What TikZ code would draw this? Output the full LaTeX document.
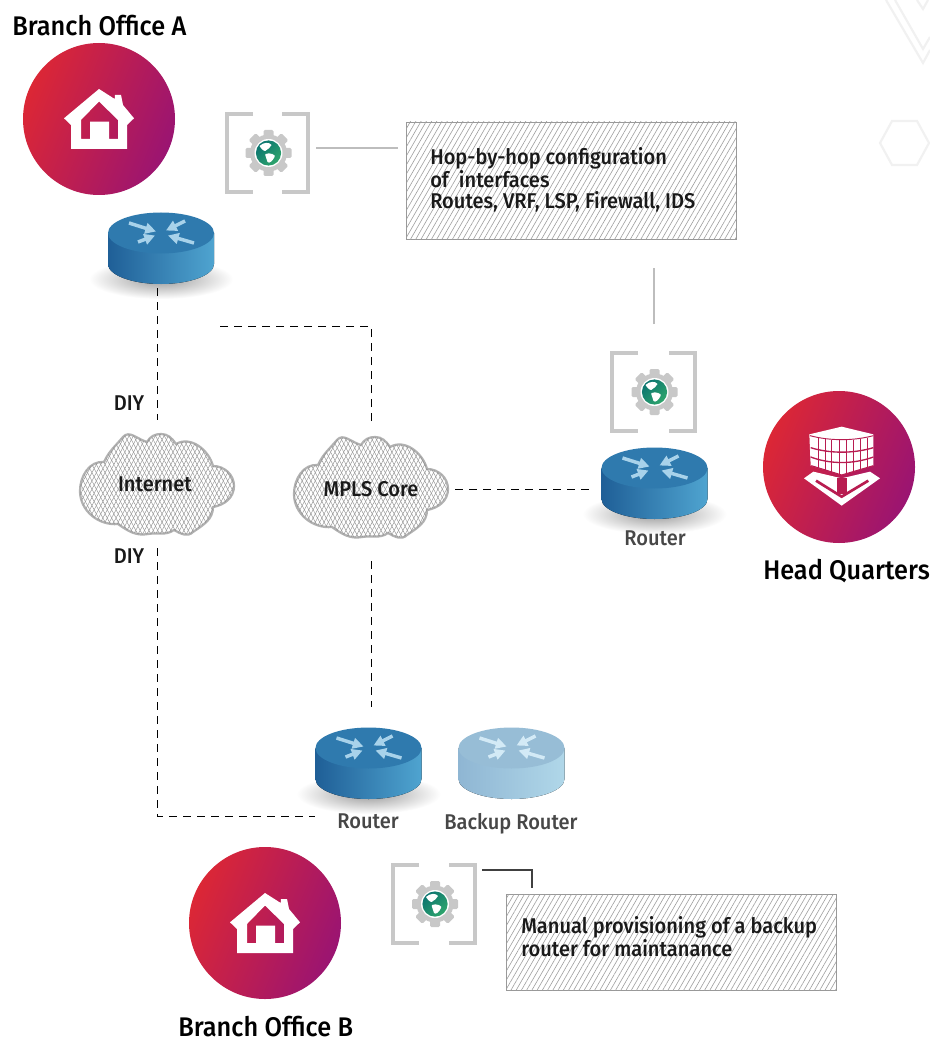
\documentclass[tikz,border=0pt]{standalone}
\usepackage{fontspec}
\setmainfont{Fira Sans}[UprightFont=* Medium,FakeStretch=0.94]
\usetikzlibrary{patterns.meta,arrows.meta,calc}
\definecolor{gred}{HTML}{DC2735}
\definecolor{gpurple}{HTML}{9A1472}
\definecolor{framegrey}{HTML}{C8C8C8}
\definecolor{linegrey}{HTML}{BDBDBD}
\definecolor{bggrey}{HTML}{F1F1F1}
\definecolor{rdark}{HTML}{1F5F97}
\definecolor{rlight}{HTML}{4FA4D0}
\definecolor{rtop}{HTML}{2F7AAE}
\definecolor{rarrow}{HTML}{A8D2EA}
\definecolor{kdark}{HTML}{8FB6D3}
\definecolor{klight}{HTML}{B0D7E9}
\definecolor{ktop}{HTML}{97BDD6}
\definecolor{karrow}{HTML}{D3EAF6}
\definecolor{hqline}{HTML}{B81C50}
\definecolor{globea}{HTML}{0C7570}
\definecolor{globeb}{HTML}{2FA56C}
\tikzset{
  x=0.75pt,y=0.75pt,
  dashline/.style={line width=0.75pt,draw=black,dash pattern=on 6pt off 4.5pt},
  solidline/.style={line width=1.5pt,draw=linegrey},
  anchorbox/.style={inner sep=0pt,outer sep=0pt},
  notebox/.style={draw=black!40,line width=0.7pt,fill=white,inner sep=0pt,outer sep=0pt,
    postaction={pattern={Lines[angle=60,distance=3.4pt,line width=0.45pt]},pattern color=black!38}},
  cloudshape/.style={draw=black!30,line width=1.7pt,fill=white,
    postaction={pattern={Lines[angle=62,distance=2.9pt,line width=0.35pt]},pattern color=black!42},
    postaction={pattern={Lines[angle=118,distance=2.9pt,line width=0.35pt]},pattern color=black!42}},
  txtb/.style={font=\fontsize{20.2}{23}\selectfont,text=black,inner sep=0pt},
  txtm/.style={font=\fontsize{16}{15.8}\selectfont,text=black!90,inner sep=0pt,align=left},
  txtg/.style={font=\fontsize{16}{15.8}\selectfont,text=black!72,inner sep=0pt},
  bgmark/.style={draw=bggrey,line width=1.6pt},
}
% circle with gradient
\newcommand{\badge}[2]{\shade[left color=gred,right color=gpurple,shading angle=68] (#1,#2) circle[radius=76];}
% cloud outline
\newcommand{\cloudat}[2]{%
  \path[cloudshape,shift={(#1,#2)}] (-53,22) to[out=175,in=90] (-77,-7) to[out=270,in=185] (-39,-40)
   to[out=-35,in=190] (-9,-50) to[out=10,in=215] (17,-46) to[out=-30,in=225] (36,-48)
   to[out=35,in=270] (56,-23) to[out=10,in=270] (77,-2) to[out=90,in=0] (56,18)
   to[out=105,in=30] (19,40) to[out=125,in=0] (4,50) to[out=180,in=60] (-10,42)
   to[out=165,in=50] (-34,47) to[out=230,in=65] (-53,22) -- cycle;}
% router
\newcommand{\routerbody}[6]{%
 \begin{scope}[shift={(#1,#2)}]
  \fill[left color=#3,right color=#4] (-53,0) -- (-53,-31) arc[start angle=180,end angle=360,x radius=53,y radius=20] -- (53,0) -- cycle;
  \fill[#5] (0,0) ellipse[x radius=53,y radius=20.5];
  \foreach \tx/\ty/\hx/\hy in {-32/10/-5/1.5, 24/12/5/2.5, -23/-9/-6/-2.5, 33/-10/7/-2.5}
    \draw[#6,line width=2.6pt,-{Triangle[width=8pt,length=8pt]}] (\tx,\ty) -- (\hx,\hy);
 \end{scope}}
\newcommand{\routershadow}[2]{\shade[inner color=black!40,outer color=white] (#1,#2-46) ellipse[x radius=72,y radius=20];}
% gear
\newcommand{\gearicon}[2]{%
 \begin{scope}[shift={(#1,#2)}]
  \fill[framegrey] (0,0) circle[radius=18.5];
  \foreach \a in {0,45,...,315}
    \fill[framegrey,rotate=\a,rounded corners=1pt] (-5,14) rectangle (5,23);
  \fill[white] (0,0) circle[radius=14];
  \shade[left color=globea,right color=globeb,shading angle=45] (0,0) circle[radius=12.6];
  \fill[white] (-9,7) .. controls (-5,11) and (1,11) .. (3,8) .. controls (1,6) and (0,3) .. (-2,3) .. controls (-3,1) and (-6,2) .. (-9,7) -- cycle;
  \fill[white] (-3,-1) .. controls (1,1) and (8,-2) .. (6,-4) .. controls (4,-8) and (1,-11) .. (-1,-9) .. controls (-1,-6) and (-4,-3) .. (-3,-1) -- cycle;
 \end{scope}}
% bracket frame
\newcommand{\frameat}[4]{%
 \draw[framegrey,line width=2.3pt] (#1+26,#2) -- (#1,#2) -- (#1,#4) -- (#1+26,#4);
 \draw[framegrey,line width=2.3pt] (#3-26,#2) -- (#3,#2) -- (#3,#4) -- (#3-26,#4);}
\newcommand{\houseicon}[2]{%
 \fill[white,even odd rule,shift={(#1,#2)}] (0,30) -- (15.7,20) -- (16,24) -- (22,24) -- (24,14) -- (35,0.7) -- (28,-6) -- (28,-30) -- (-28,-30) -- (-28,-6) -- (-35,0.7) -- cycle
  (0,17.5) -- (19,-1) -- (19,-20) -- (10,-20) -- (10,-2.7) -- (-9,-2.7) -- (-9,-20) -- (-18,-20) -- (-18,-1) -- cycle;}
\begin{document}
\begin{tikzpicture}
\useasboundingbox (0,-1041) rectangle (930,0);
\fill[white] (0,-1041) rectangle (930,0);
% faint background marks
\draw[bgmark] (886,0) -- (923,-63) -- (930,-50);
\draw[bgmark] (895,0) -- (923,-49) -- (930,-37);
\draw[bgmark] (917,0) -- (923,-9) -- (928,0);
\draw[bgmark] (880,-143) -- (892,-121) -- (917,-121) -- (929,-143) -- (917,-165) -- (892,-165) -- cycle;
% badges
\badge{99}{-119}
\badge{839}{-467}
\badge{265}{-923}
\houseicon{99}{-119}
\houseicon{265}{-923}
% head-quarter icon
\begin{scope}[shift={(839,-467)},scale=1/3,yscale=-1,shift={(-147,-156)}]
 \fill[white] (42,190) -- (70,170) -- (155,190) -- (240,170) -- (270,190) -- (155,272) -- cycle;
 \draw[hqline,line width=2pt] (78,197) -- (155,245) -- (235,197);
 \fill[hqline] (142,190) rectangle (172,236);
 \fill[white] (58,58) -- (155,35) -- (250,58) -- (250,152) -- (155,180) -- (62,152) -- cycle;
 \draw[hqline,line width=0.7pt] (60,62) .. controls (120,78) and (190,78) .. (250,62);
 \draw[hqline,line width=1pt] (62,98) .. controls (120,116) and (190,116) .. (250,98);
 \draw[hqline,line width=1pt] (62,126) .. controls (120,148) and (190,148) .. (250,126);
 \draw[hqline,line width=0.8pt] (64,152) -- (155,180) -- (250,152);
 \foreach \cx/\t/\b in {85/68/160,105/70/167,125/74/173,148/75/178,168/75/178,190/74/173,210/71/167,232/68/160}
   \draw[hqline,line width=0.6pt] (\cx,\t) -- (\cx,\b);
\end{scope}
% routers
\routershadow{161}{-233}
\routerbody{161}{-233}{rdark}{rlight}{rtop}{rarrow}
\routershadow{654.5}{-468}
\routerbody{654.5}{-468}{rdark}{rlight}{rtop}{rarrow}
\routershadow{368.5}{-748}
\routerbody{368.5}{-748}{rdark}{rlight}{rtop}{rarrow}
\routerbody{511.5}{-748}{kdark}{klight}{ktop}{karrow}
% clouds
\cloudat{157}{-484}
\cloudat{371}{-487}
% frames and gears
\frameat{227}{-114}{308}{-192}
\gearicon{268.5}{-153}
\frameat{612}{-353}{695}{-431}
\gearicon{654.5}{-392}
\frameat{393}{-865}{475}{-943}
\gearicon{435}{-904}
% named layout nodes
\node[anchorbox,minimum width=107*0.75pt,minimum height=76*0.75pt] (ra) at (161,-250) {};
\node[anchorbox,minimum width=125*0.75pt,minimum height=84*0.75pt] (rh) at (654.5,-489) {};
\node[anchorbox,minimum width=107*0.75pt,minimum height=116*0.75pt] (rb) at (368.5,-765) {};
\node[anchorbox,minimum width=107*0.75pt,minimum height=76*0.75pt] (rk) at (511.5,-765) {};
\node[anchorbox,minimum width=155*0.75pt,minimum height=128*0.75pt] (inet) at (157,-484) {};
\node[anchorbox,minimum width=168*0.75pt,minimum height=136*0.75pt] (mpls) at (371,-489) {};
\node[anchorbox,minimum width=96*0.75pt,minimum height=80*0.75pt] (ga) at (268,-148) {};
\node[anchorbox,minimum width=80*0.75pt,minimum height=136*0.75pt] (gh) at (653.5,-392) {};
\node[anchorbox,minimum width=94*0.75pt,minimum height=80*0.75pt] (gb) at (435,-870) {};
\coordinate (freeend) at (219,-326);
\coordinate (bend) at (315,-816);
\coordinate (corner) at (532,-870);
% notes
\node[notebox,minimum width=330*0.75pt,minimum height=117*0.75pt] (na) at (571,-180.5) {};
\node[notebox,minimum width=330*0.75pt,minimum height=96*0.75pt] (nb) at (671,-942) {};
% connectors
\draw[dashline] (ra.south -| inet.north) -- (inet.north);
\draw[dashline] (inet.south) -- (inet.south |- bend) -- (bend);
\draw[dashline] (mpls.north) -- (mpls.north |- freeend) -- (freeend);
\draw[dashline,shorten <=3pt] (mpls.south) -- (mpls.south |- rb.north);
\draw[dashline] (mpls.east) -- (rh.west);
\draw[solidline,shorten >=6pt] (ga.east) -- (ga.east -| na.west);
\draw[solidline,shorten >=21.5pt] (gh.north) -- (gh.north |- na.south);
\draw[line width=0.8pt,draw=black!75,shorten >=4.5pt] (gb.east) -- (corner) -- (corner |- nb.north);
% labels
\node[txtb,anchor=west] (t1) at (12,-26) {Branch Office A};
\node[txtb,anchor=west] (t2) at (763,-571) {Head Quarters};
\node[txtb,anchor=west] (t3) at (178,-1027) {Branch Office B};
\node[txtm] (t4) at (129,-403) {DIY};
\node[txtm] (t5) at (129,-556) {DIY};
\node[txtm] (t6) at (155,-484) {Internet};
\node[txtm] (t7) at (371,-489) {MPLS Core};
\node[txtg] (t8) at (655,-538) {Router};
\node[txtg] (t9) at (368,-821) {Router};
\node[txtg] (t10) at (511,-824) {Backup Router};
\node[txtm,anchor=west] (t11) at (430,-180) {Hop-by-hop configuration\\of\ \ interfaces\\Routes, VRF, LSP, Firewall, IDS};
\node[txtm,anchor=west] (t12) at (521,-937) {Manual provisioning of a backup\\router for maintanance};
\end{tikzpicture}
\end{document}
